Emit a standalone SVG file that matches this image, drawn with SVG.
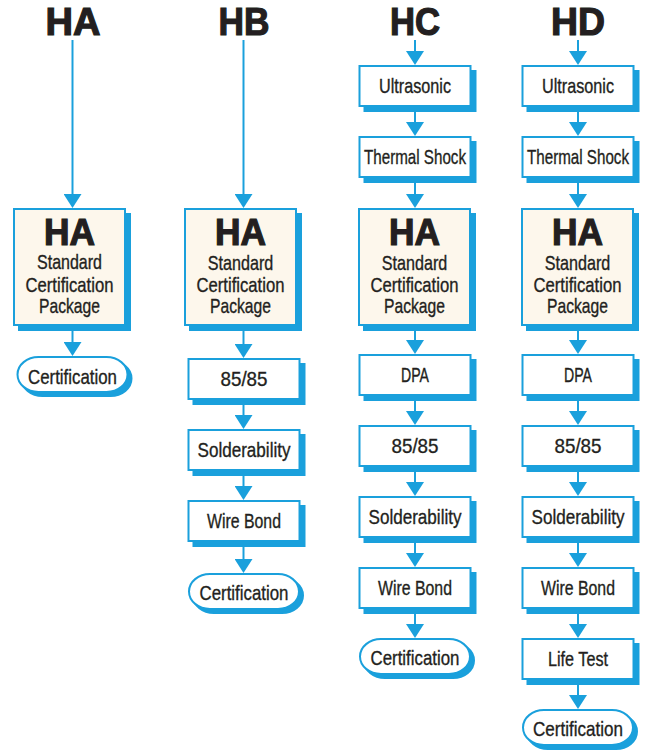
<svg xmlns="http://www.w3.org/2000/svg" width="646" height="755" viewBox="0 0 646 755">
<defs>
<style>
.box{fill:#ffffff;stroke:#1aa0dc;stroke-width:2}
.big{fill:#fdf7ec;stroke:#1aa0dc;stroke-width:2}
.sh{fill:#1aa0dc;stroke:#1aa0dc;stroke-width:2}
.lbl{font-family:"Liberation Sans",Arial,sans-serif;font-size:21px;fill:#231f20;stroke:#231f20;stroke-width:0.35;text-anchor:middle}
.hv{font-family:"Liberation Sans",Arial,sans-serif;font-weight:bold;fill:#231f20;stroke:#231f20;stroke-width:1.2;text-anchor:middle}
.ttl{font-size:38px}
.bh{font-size:36px}
.conn line{stroke:#1aa0dc;stroke-width:2;fill:none}
</style>
<marker id="ah" markerUnits="userSpaceOnUse" markerWidth="14" markerHeight="18" refX="10" refY="9" orient="auto" viewBox="0 0 14 18">
<path d="M0,0 L14,9 L0,18 Z" fill="#1aa0dc"/>
</marker>
</defs>
<rect x="0" y="0" width="646" height="755" fill="#ffffff"/>

<g id="titles">
<text class="hv ttl" x="73" y="35" textLength="55" lengthAdjust="spacingAndGlyphs">HA</text>
<text class="hv ttl" x="244" y="35" textLength="51" lengthAdjust="spacingAndGlyphs">HB</text>
<text class="hv ttl" x="415" y="35" textLength="50" lengthAdjust="spacingAndGlyphs">HC</text>
<text class="hv ttl" x="578" y="35" textLength="54" lengthAdjust="spacingAndGlyphs">HD</text>
</g>

<g id="connectors" class="conn">
<!-- HA column -->
<line x1="72.5" y1="40" x2="72.5" y2="204" marker-end="url(#ah)"/>
<line x1="72.5" y1="326" x2="72.5" y2="352" marker-end="url(#ah)"/>
<!-- HB column -->
<line x1="243.5" y1="40" x2="243.5" y2="204" marker-end="url(#ah)"/>
<line x1="243.5" y1="326" x2="243.5" y2="354" marker-end="url(#ah)"/>
<line x1="243.5" y1="400" x2="243.5" y2="425" marker-end="url(#ah)"/>
<line x1="243.5" y1="471" x2="243.5" y2="496" marker-end="url(#ah)"/>
<line x1="243.5" y1="542" x2="243.5" y2="569" marker-end="url(#ah)"/>
<!-- HC column -->
<line x1="415" y1="40" x2="415" y2="61" marker-end="url(#ah)"/>
<line x1="415" y1="107" x2="415" y2="132" marker-end="url(#ah)"/>
<line x1="415" y1="178" x2="415" y2="204" marker-end="url(#ah)"/>
<line x1="415" y1="326" x2="415" y2="350" marker-end="url(#ah)"/>
<line x1="415" y1="396" x2="415" y2="421" marker-end="url(#ah)"/>
<line x1="415" y1="467" x2="415" y2="492" marker-end="url(#ah)"/>
<line x1="415" y1="538" x2="415" y2="563" marker-end="url(#ah)"/>
<line x1="415" y1="609" x2="415" y2="634" marker-end="url(#ah)"/>
<!-- HD column -->
<line x1="578" y1="40" x2="578" y2="61" marker-end="url(#ah)"/>
<line x1="578" y1="107" x2="578" y2="132" marker-end="url(#ah)"/>
<line x1="578" y1="178" x2="578" y2="204" marker-end="url(#ah)"/>
<line x1="578" y1="326" x2="578" y2="350" marker-end="url(#ah)"/>
<line x1="578" y1="396" x2="578" y2="421" marker-end="url(#ah)"/>
<line x1="578" y1="467" x2="578" y2="492" marker-end="url(#ah)"/>
<line x1="578" y1="538" x2="578" y2="563" marker-end="url(#ah)"/>
<line x1="578" y1="609" x2="578" y2="634" marker-end="url(#ah)"/>
<line x1="578" y1="680" x2="578" y2="705" marker-end="url(#ah)"/>
</g>

<!-- HA column -->
<g id="ha-package">
<rect class="sh" x="19" y="214" width="111" height="116"/>
<rect class="big" x="14" y="209" width="111" height="116"/>
<text class="hv bh" x="69.5" y="245" textLength="51" lengthAdjust="spacingAndGlyphs">HA</text>
<text class="lbl" x="69.5" y="269" textLength="65" lengthAdjust="spacingAndGlyphs">Standard</text>
<text class="lbl" x="69.5" y="291.5" textLength="88" lengthAdjust="spacingAndGlyphs">Certification</text>
<text class="lbl" x="69.5" y="313" textLength="61" lengthAdjust="spacingAndGlyphs">Package</text>
</g>
<g id="ha-certification">
<rect class="sh" x="21.5" y="361" width="110" height="35" rx="21" ry="17.5"/>
<rect class="box" x="17.5" y="357" width="110" height="35" rx="21" ry="17.5"/>
<text class="lbl" x="72.5" y="384" textLength="89" lengthAdjust="spacingAndGlyphs">Certification</text>
</g>

<!-- HB column -->
<g id="hb-package">
<rect class="sh" x="190" y="214" width="111" height="116"/>
<rect class="big" x="185" y="209" width="111" height="116"/>
<text class="hv bh" x="240.5" y="245" textLength="51" lengthAdjust="spacingAndGlyphs">HA</text>
<text class="lbl" x="240.5" y="269.5" textLength="65.5" lengthAdjust="spacingAndGlyphs">Standard</text>
<text class="lbl" x="240.5" y="292" textLength="88" lengthAdjust="spacingAndGlyphs">Certification</text>
<text class="lbl" x="240.5" y="313" textLength="61" lengthAdjust="spacingAndGlyphs">Package</text>
</g>
<g id="hb-8585">
<rect class="sh" x="193.5" y="364" width="111" height="40"/>
<rect class="box" x="188.5" y="359" width="111" height="40"/>
<text class="lbl" x="244" y="386" textLength="47" lengthAdjust="spacingAndGlyphs">85/85</text>
</g>
<g id="hb-solderability">
<rect class="sh" x="193.5" y="435" width="111" height="40"/>
<rect class="box" x="188.5" y="430" width="111" height="40"/>
<text class="lbl" x="244" y="457" textLength="93" lengthAdjust="spacingAndGlyphs">Solderability</text>
</g>
<g id="hb-wirebond">
<rect class="sh" x="193.5" y="506" width="111" height="40"/>
<rect class="box" x="188.5" y="501" width="111" height="40"/>
<text class="lbl" x="244" y="528" textLength="74" lengthAdjust="spacingAndGlyphs">Wire Bond</text>
</g>
<g id="hb-certification">
<rect class="sh" x="193" y="578" width="110" height="35" rx="21" ry="17.5"/>
<rect class="box" x="189" y="574" width="110" height="35" rx="21" ry="17.5"/>
<text class="lbl" x="244" y="600" textLength="89" lengthAdjust="spacingAndGlyphs">Certification</text>
</g>

<!-- HC column -->
<g id="hc-ultrasonic">
<rect class="sh" x="364.5" y="71" width="111" height="40"/>
<rect class="box" x="359.5" y="66" width="111" height="40"/>
<text class="lbl" x="415" y="93" textLength="72" lengthAdjust="spacingAndGlyphs">Ultrasonic</text>
</g>
<g id="hc-thermalshock">
<rect class="sh" x="364.5" y="142" width="111" height="40"/>
<rect class="box" x="359.5" y="137" width="111" height="40"/>
<text class="lbl" x="415" y="164" textLength="102" lengthAdjust="spacingAndGlyphs">Thermal Shock</text>
</g>
<g id="hc-package">
<rect class="sh" x="364" y="214" width="111" height="116"/>
<rect class="big" x="359" y="209" width="111" height="116"/>
<text class="hv bh" x="414.5" y="245" textLength="51" lengthAdjust="spacingAndGlyphs">HA</text>
<text class="lbl" x="414.5" y="269.5" textLength="65.5" lengthAdjust="spacingAndGlyphs">Standard</text>
<text class="lbl" x="414.5" y="292" textLength="88" lengthAdjust="spacingAndGlyphs">Certification</text>
<text class="lbl" x="414.5" y="313" textLength="61" lengthAdjust="spacingAndGlyphs">Package</text>
</g>
<g id="hc-dpa">
<rect class="sh" x="364.5" y="360" width="111" height="40"/>
<rect class="box" x="359.5" y="355" width="111" height="40"/>
<text class="lbl" x="415" y="382" textLength="28" lengthAdjust="spacingAndGlyphs">DPA</text>
</g>
<g id="hc-8585">
<rect class="sh" x="364.5" y="431" width="111" height="40"/>
<rect class="box" x="359.5" y="426" width="111" height="40"/>
<text class="lbl" x="415" y="453" textLength="47" lengthAdjust="spacingAndGlyphs">85/85</text>
</g>
<g id="hc-solderability">
<rect class="sh" x="364.5" y="502" width="111" height="40"/>
<rect class="box" x="359.5" y="497" width="111" height="40"/>
<text class="lbl" x="415" y="524" textLength="93" lengthAdjust="spacingAndGlyphs">Solderability</text>
</g>
<g id="hc-wirebond">
<rect class="sh" x="364.5" y="573" width="111" height="40"/>
<rect class="box" x="359.5" y="568" width="111" height="40"/>
<text class="lbl" x="415" y="595" textLength="74" lengthAdjust="spacingAndGlyphs">Wire Bond</text>
</g>
<g id="hc-certification">
<rect class="sh" x="364" y="643" width="110" height="35" rx="21" ry="17.5"/>
<rect class="box" x="360" y="639" width="110" height="35" rx="21" ry="17.5"/>
<text class="lbl" x="415" y="665" textLength="89" lengthAdjust="spacingAndGlyphs">Certification</text>
</g>

<!-- HD column -->
<g id="hd-ultrasonic">
<rect class="sh" x="527.5" y="71" width="111" height="40"/>
<rect class="box" x="522.5" y="66" width="111" height="40"/>
<text class="lbl" x="578" y="93" textLength="72" lengthAdjust="spacingAndGlyphs">Ultrasonic</text>
</g>
<g id="hd-thermalshock">
<rect class="sh" x="527.5" y="142" width="111" height="40"/>
<rect class="box" x="522.5" y="137" width="111" height="40"/>
<text class="lbl" x="578" y="164" textLength="102" lengthAdjust="spacingAndGlyphs">Thermal Shock</text>
</g>
<g id="hd-package">
<rect class="sh" x="527" y="214" width="111" height="116"/>
<rect class="big" x="522" y="209" width="111" height="116"/>
<text class="hv bh" x="577.5" y="245" textLength="51" lengthAdjust="spacingAndGlyphs">HA</text>
<text class="lbl" x="577.5" y="269.5" textLength="65.5" lengthAdjust="spacingAndGlyphs">Standard</text>
<text class="lbl" x="577.5" y="292" textLength="88" lengthAdjust="spacingAndGlyphs">Certification</text>
<text class="lbl" x="577.5" y="313" textLength="61" lengthAdjust="spacingAndGlyphs">Package</text>
</g>
<g id="hd-dpa">
<rect class="sh" x="527.5" y="360" width="111" height="40"/>
<rect class="box" x="522.5" y="355" width="111" height="40"/>
<text class="lbl" x="578" y="382" textLength="28" lengthAdjust="spacingAndGlyphs">DPA</text>
</g>
<g id="hd-8585">
<rect class="sh" x="527.5" y="431" width="111" height="40"/>
<rect class="box" x="522.5" y="426" width="111" height="40"/>
<text class="lbl" x="578" y="453" textLength="47" lengthAdjust="spacingAndGlyphs">85/85</text>
</g>
<g id="hd-solderability">
<rect class="sh" x="527.5" y="502" width="111" height="40"/>
<rect class="box" x="522.5" y="497" width="111" height="40"/>
<text class="lbl" x="578" y="524" textLength="93" lengthAdjust="spacingAndGlyphs">Solderability</text>
</g>
<g id="hd-wirebond">
<rect class="sh" x="527.5" y="573" width="111" height="40"/>
<rect class="box" x="522.5" y="568" width="111" height="40"/>
<text class="lbl" x="578" y="595" textLength="74" lengthAdjust="spacingAndGlyphs">Wire Bond</text>
</g>
<g id="hd-lifetest">
<rect class="sh" x="527.5" y="644" width="111" height="40"/>
<rect class="box" x="522.5" y="639" width="111" height="40"/>
<text class="lbl" x="578" y="666" textLength="60" lengthAdjust="spacingAndGlyphs">Life Test</text>
</g>
<g id="hd-certification">
<rect class="sh" x="527" y="714" width="110" height="35" rx="21" ry="17.5"/>
<rect class="box" x="523" y="710" width="110" height="35" rx="21" ry="17.5"/>
<text class="lbl" x="578" y="736" textLength="90" lengthAdjust="spacingAndGlyphs">Certification</text>
</g>
</svg>
